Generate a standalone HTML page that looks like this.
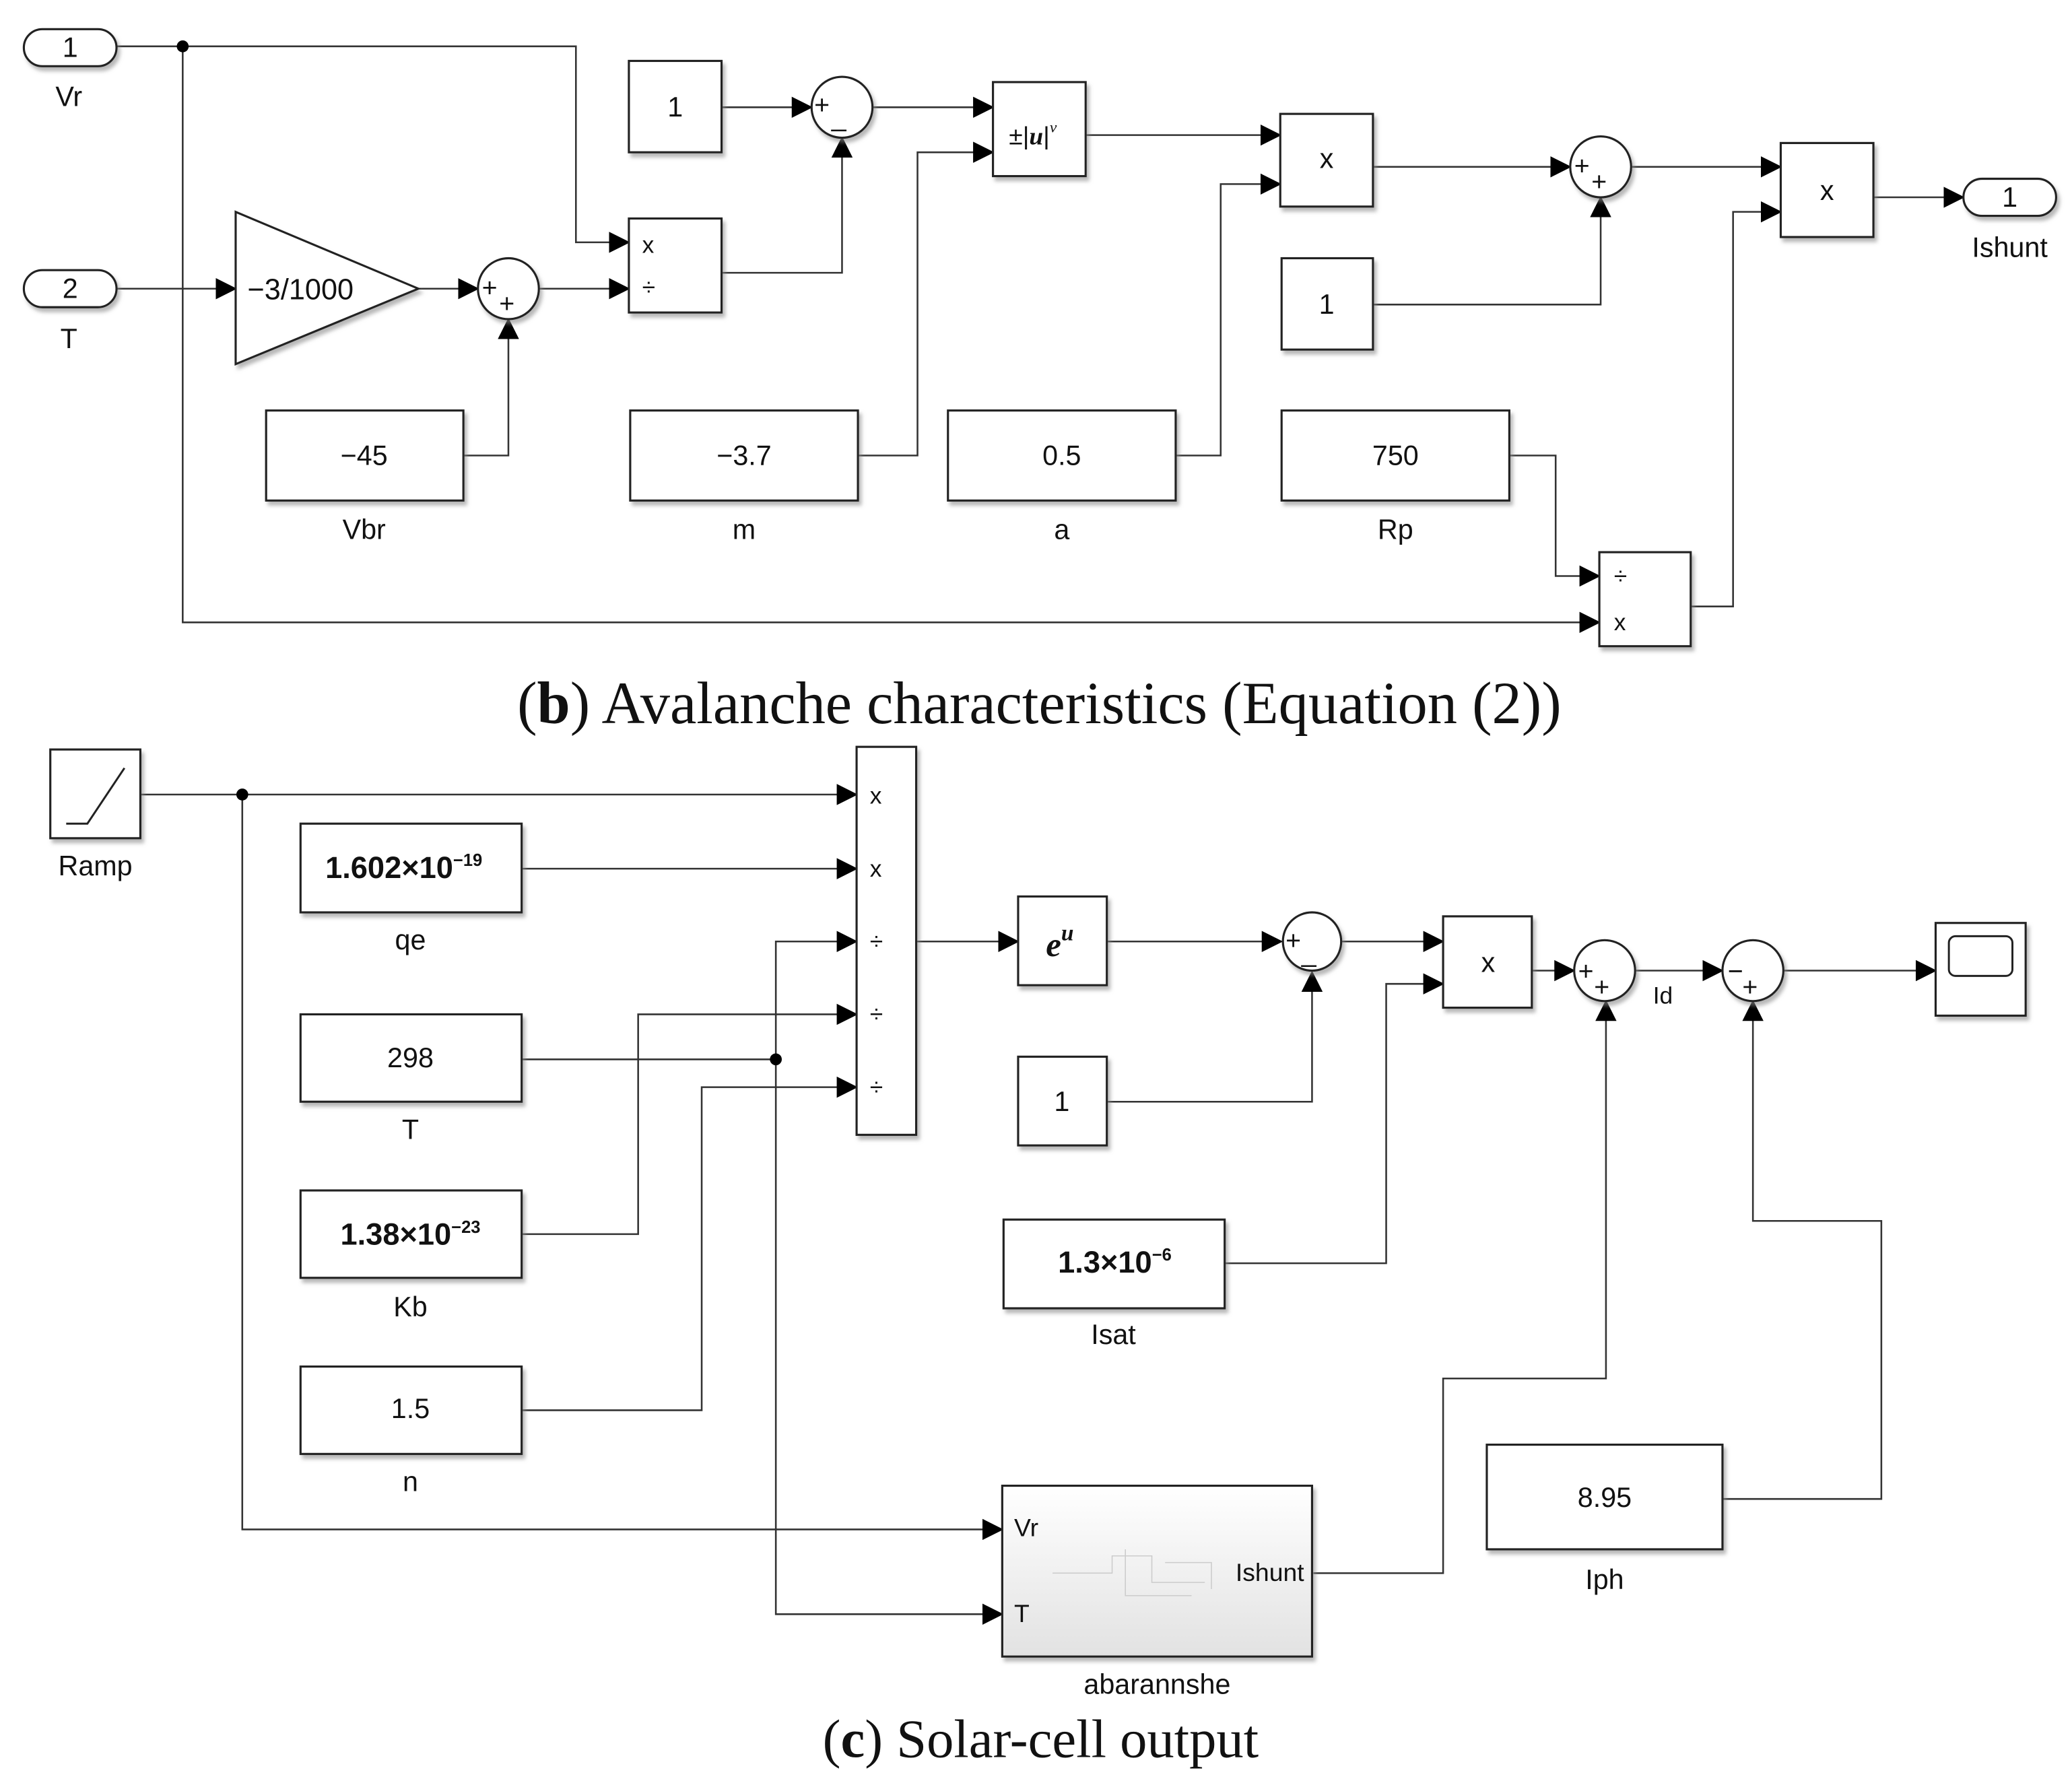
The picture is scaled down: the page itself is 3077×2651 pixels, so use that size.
<!DOCTYPE html>
<html><head><meta charset="utf-8"><style>
html,body{margin:0;padding:0;background:#fff}
svg{display:block}
text{font-family:"Liberation Sans",Arial,sans-serif;fill:#111}
.cap{font-family:"Liberation Serif",serif}
</style></head><body>
<svg width="3077" height="2651" viewBox="0 0 1565 1348" preserveAspectRatio="none" xmlns="http://www.w3.org/2000/svg">
<defs>
<marker id="a" markerUnits="userSpaceOnUse" markerWidth="16" markerHeight="16" refX="15" refY="8" orient="auto"><path d="M0,0 L16,8 L0,16 z" fill="#000"/></marker>
<linearGradient id="g" x1="0" y1="0" x2="0" y2="1"><stop offset="0" stop-color="#fff"/><stop offset="1" stop-color="#e2e2e2"/></linearGradient>
<filter id="s" x="-10%" y="-10%" width="130%" height="130%"><feDropShadow dx="2" dy="3" stdDeviation="1.5" flood-color="#888" flood-opacity="0.6"/></filter>
</defs>
<g fill="none" stroke="#333" stroke-width="1.3">
<path d="M88,35 H435 V183 H475" marker-end="url(#a)"/>
<path d="M138,35 V470 H1208" marker-end="url(#a)"/>
<path d="M88,218 H178" marker-end="url(#a)"/>
<path d="M316,218 H361" marker-end="url(#a)"/>
<path d="M407,218 H475" marker-end="url(#a)"/>
<path d="M350,344 H384 V241" marker-end="url(#a)"/>
<path d="M545,206 H636 V104" marker-end="url(#a)"/>
<path d="M545,81 H613" marker-end="url(#a)"/>
<path d="M659,81 H750" marker-end="url(#a)"/>
<path d="M648,344 H693 V115 H750" marker-end="url(#a)"/>
<path d="M820,102 H967" marker-end="url(#a)"/>
<path d="M888,344 H922 V139 H967" marker-end="url(#a)"/>
<path d="M1037,126 H1186" marker-end="url(#a)"/>
<path d="M1037,230 H1209 V149" marker-end="url(#a)"/>
<path d="M1232,126 H1345" marker-end="url(#a)"/>
<path d="M1277,458 H1309 V160 H1345" marker-end="url(#a)"/>
<path d="M1140,344 H1175 V435 H1208" marker-end="url(#a)"/>
<path d="M1415,149 H1483" marker-end="url(#a)"/>
<path d="M106,600 H647" marker-end="url(#a)"/>
<path d="M183,600 V1155 H757" marker-end="url(#a)"/>
<path d="M394,656 H647" marker-end="url(#a)"/>
<path d="M394,800 H586"/>
<path d="M586,800 V711 H647" marker-end="url(#a)"/>
<path d="M586,800 V1219 H757" marker-end="url(#a)"/>
<path d="M394,932 H482 V766 H647" marker-end="url(#a)"/>
<path d="M394,1065 H530 V821 H647" marker-end="url(#a)"/>
<path d="M692,711 H769" marker-end="url(#a)"/>
<path d="M836,711 H968" marker-end="url(#a)"/>
<path d="M836,832 H991 V734" marker-end="url(#a)"/>
<path d="M1013,711 H1090" marker-end="url(#a)"/>
<path d="M925,954 H1047 V743 H1090" marker-end="url(#a)"/>
<path d="M1157,733 H1189" marker-end="url(#a)"/>
<path d="M992,1188 H1090 V1041 H1213 V756" marker-end="url(#a)"/>
<path d="M1235,733 H1301" marker-end="url(#a)"/>
<path d="M1301,1132 H1421 V922 H1324 V756" marker-end="url(#a)"/>
<path d="M1347,733 H1462" marker-end="url(#a)"/>
</g>
<g fill="#000"><circle cx="138" cy="35" r="4.5"/><circle cx="183" cy="600" r="4.5"/><circle cx="586" cy="800" r="4.5"/></g>
<g fill="#fff" stroke="#222" stroke-width="1.6" filter="url(#s)">
<rect x="18" y="22" width="70" height="28" rx="14"/>
<rect x="18" y="204" width="70" height="28" rx="14"/>
<rect x="1483" y="135" width="70" height="28" rx="14"/>
<path d="M178,160 L316,218 L178,275 z"/>
<circle cx="384" cy="218" r="23"/>
<rect x="201" y="310" width="149" height="68"/>
<rect x="475" y="165" width="70" height="71"/>
<rect x="475" y="46" width="70" height="69"/>
<circle cx="636" cy="81" r="23"/>
<rect x="750" y="62" width="70" height="71"/>
<rect x="476" y="310" width="172" height="68"/>
<rect x="967" y="86" width="70" height="70"/>
<rect x="716" y="310" width="172" height="68"/>
<circle cx="1209" cy="126" r="23"/>
<rect x="968" y="195" width="69" height="69"/>
<rect x="1345" y="108" width="70" height="71"/>
<rect x="968" y="310" width="172" height="68"/>
<rect x="1208" y="417" width="69" height="71"/>
<rect x="38" y="566" width="68" height="67"/>
<rect x="647" y="564" width="45" height="293"/>
<rect x="227" y="622" width="167" height="67"/>
<rect x="227" y="766" width="167" height="66"/>
<rect x="227" y="899" width="167" height="66"/>
<rect x="227" y="1032" width="167" height="66"/>
<rect x="769" y="677" width="67" height="67"/>
<circle cx="991" cy="711" r="22"/>
<rect x="769" y="798" width="67" height="67"/>
<rect x="1090" y="692" width="67" height="69"/>
<rect x="758" y="921" width="167" height="67"/>
<circle cx="1212" cy="733" r="23"/>
<circle cx="1324" cy="733" r="23"/>
<rect x="1123" y="1091" width="178" height="79"/>
<rect x="1462" y="697" width="68" height="70"/>
<rect x="757" y="1122" width="234" height="129" fill="url(#g)"/>
</g>
<path d="M50,622 H66 L94,580" fill="none" stroke="#222" stroke-width="1.5"/>
<rect x="1472" y="707" width="48" height="30" rx="5" fill="#fff" stroke="#222" stroke-width="1.5"/>
<g fill="none" stroke="#ccc" stroke-width="0.8"><path d="M795,1188 H840 V1175 H870 V1195 H910 M850,1170 V1205 H900 M880,1180 H915 V1200"/></g>
<g font-size="21" text-anchor="middle">
<text x="53" y="43">1</text><text x="52" y="80">Vr</text>
<text x="53" y="225">2</text><text x="52" y="263">T</text>
<text x="1518" y="156">1</text><text x="1518" y="194">Ishunt</text>
<text x="227" y="226" font-size="22">−3/1000</text>
<text x="275" y="351">−45</text><text x="275" y="407">Vbr</text>
<text x="510" y="88">1</text>
<text x="562" y="351">−3.7</text><text x="562" y="407">m</text>
<text x="802" y="351">0.5</text><text x="802" y="407">a</text>
<text x="1002" y="127">x</text>
<text x="1002" y="237">1</text>
<text x="1054" y="351">750</text><text x="1054" y="407">Rp</text>
<text x="1380" y="151">x</text>
<text x="72" y="661">Ramp</text>
<text x="310" y="717">qe</text>
<text x="310" y="806">298</text><text x="310" y="860">T</text>
<text x="310" y="994">Kb</text>
<text x="310" y="1071">1.5</text><text x="310" y="1126">n</text>
<text x="802" y="839">1</text>
<text x="1124" y="734">x</text>
<text x="841" y="1015">Isat</text>
<text x="1212" y="1138">8.95</text><text x="1212" y="1200">Iph</text>
<text x="874" y="1279">abarannshe</text>
<text x="1256" y="758" font-size="18">Id</text>
</g>
<g font-size="18">
<text x="485" y="191">x</text><text x="485" y="223">÷</text>
<text x="1219" y="441">÷</text><text x="1219" y="476">x</text>
<text x="657" y="607">x</text><text x="657" y="662">x</text><text x="657" y="717">÷</text><text x="657" y="772">÷</text><text x="657" y="827">÷</text>
<text x="766" y="1160" font-size="19">Vr</text><text x="766" y="1225" font-size="19">T</text>
<text x="985" y="1194" font-size="19" text-anchor="end">Ishunt</text>
</g>
<g font-size="20">
<text x="615" y="86">+</text><text x="628" y="95">_</text>
<text x="364" y="224">+</text><text x="377" y="236">+</text>
<text x="1189" y="132">+</text><text x="1202" y="144">+</text>
<text x="971" y="717">+</text><text x="983" y="726">_</text>
<text x="1192" y="740">+</text><text x="1204" y="752">+</text>
<text x="1305" y="740">−</text><text x="1316" y="752">+</text>
</g>
<text x="762" y="109" font-size="19">±|<tspan font-family="Liberation Serif" font-style="italic" font-weight="bold">u</tspan>|<tspan font-size="12" dy="-9" font-family="Liberation Serif" font-style="italic">v</tspan></text>
<text x="790" y="722" font-size="26" font-style="italic" font-weight="bold" style="font-family:'Liberation Serif',serif">e<tspan font-size="17" dy="-12">u</tspan></text>
<g font-weight="bold" font-size="23" text-anchor="middle">
<text x="305" y="663">1.602×10<tspan font-size="13" dy="-9">−19</tspan></text>
<text x="310" y="940">1.38×10<tspan font-size="13" dy="-9">−23</tspan></text>
<text x="842" y="961">1.3×10<tspan font-size="13" dy="-9">−6</tspan></text>
</g>
<text class="cap" x="785" y="546" font-size="45" text-anchor="middle">(<tspan font-weight="bold">b</tspan>) Avalanche characteristics (Equation (2))</text>
<text class="cap" x="786" y="1327" font-size="41" text-anchor="middle">(<tspan font-weight="bold">c</tspan>) Solar-cell output</text>
</svg>
</body></html>
